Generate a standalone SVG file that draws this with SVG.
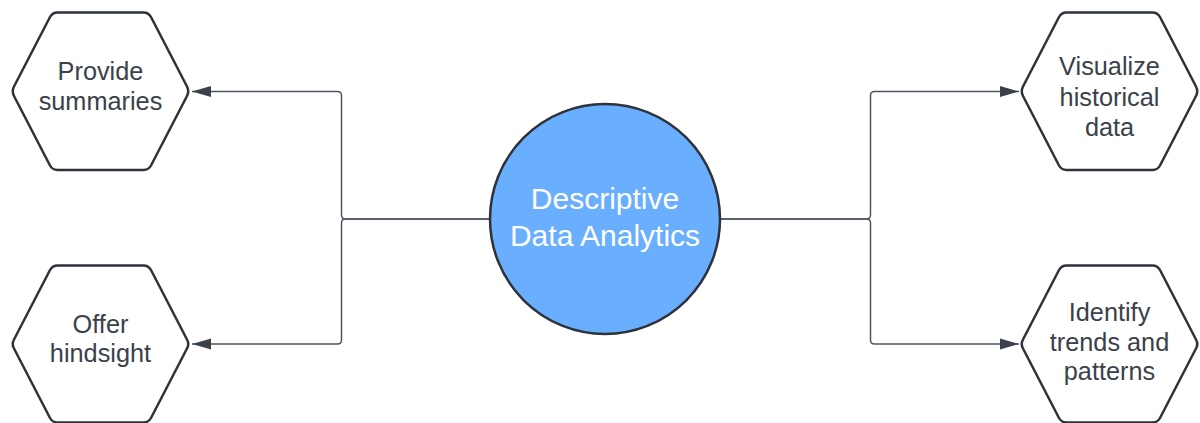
<svg xmlns="http://www.w3.org/2000/svg" width="1200" height="423" viewBox="0 0 1200 423">
  <style>
    .hex { fill: #ffffff; stroke: #2e333b; stroke-width: 2.5; stroke-linejoin: round; }
    .hex-label { font-family: "Liberation Sans", Arial, sans-serif; font-size: 25.3px; fill: #3a414a; text-anchor: middle; }
    .hub { fill: #6aaefe; stroke: #2e333b; stroke-width: 2.5; }
    .hub-label { font-family: "Liberation Sans", Arial, sans-serif; font-size: 30px; fill: #ffffff; text-anchor: middle; }
    .link { fill: none; stroke: #4f5661; stroke-width: 1.5; marker-end: url(#arrow); }
  </style>
  <defs>
    <marker id="arrow" markerUnits="userSpaceOnUse" markerWidth="20" markerHeight="12" refX="19" refY="6" orient="auto">
      <path d="M0,0.5 L19,6 L0,11.5 Z" fill="#3a414a"/>
    </marker>
  </defs>

  <g id="connectors">
    <path class="link" d="M490,219 H345.5 Q341.5,219 341.5,215 V95.5 Q341.5,91.5 337.5,91.5 H192"/>
    <path class="link" d="M490,219 H345.5 Q341.5,219 341.5,223 V340 Q341.5,344 337.5,344 H192"/>
    <path class="link" d="M720,219 H866.5 Q870.5,219 870.5,215 V95.5 Q870.5,91.5 874.5,91.5 H1019"/>
    <path class="link" d="M720,219 H866.5 Q870.5,219 870.5,223 V340 Q870.5,344 874.5,344 H1019"/>
  </g>

  <g id="node-center">
    <circle class="hub" cx="605" cy="219" r="115"/>
    <text class="hub-label" x="605" y="209">Descriptive</text>
    <text class="hub-label" x="605" y="246">Data Analytics</text>
  </g>

  <g id="node-provide-summaries">
    <path class="hex" d="M14,86.5 L50,17 Q52.5,12.5 57.5,12.5 H143.5 Q148.5,12.5 151,17 L187,86.5 Q189.5,91.5 187,96 L151,165.5 Q148.5,170 143.5,170 H57.5 Q52.5,170 50,165.5 L14,96 Q11.5,91.5 14,86.5 Z"/>
    <text class="hex-label" x="100.5" y="80">Provide</text>
    <text class="hex-label" x="100.5" y="110">summaries</text>
  </g>

  <g id="node-offer-hindsight">
    <path class="hex" d="M14,339.5 L50,270 Q52.5,265.5 57.5,265.5 H143.5 Q148.5,265.5 151,270 L187,339.5 Q189.5,344 187,348.5 L151,418 Q148.5,422.5 143.5,422.5 H57.5 Q52.5,422.5 50,418 L14,348.5 Q11.5,344 14,339.5 Z"/>
    <text class="hex-label" x="100.5" y="333">Offer</text>
    <text class="hex-label" x="100.5" y="362">hindsight</text>
  </g>

  <g id="node-visualize-historical-data">
    <path class="hex" d="M1023,86.5 L1059,17 Q1061.5,12.5 1066.5,12.5 H1152.5 Q1157.5,12.5 1160,17 L1196,86.5 Q1198.5,91.5 1196,96 L1160,165.5 Q1157.5,170 1152.5,170 H1066.5 Q1061.5,170 1059,165.5 L1023,96 Q1020.5,91.5 1023,86.5 Z"/>
    <text class="hex-label" x="1109.5" y="75">Visualize</text>
    <text class="hex-label" x="1109.5" y="106">historical</text>
    <text class="hex-label" x="1109.5" y="136">data</text>
  </g>

  <g id="node-identify-trends">
    <path class="hex" d="M1023,339.5 L1059,270 Q1061.5,265.5 1066.5,265.5 H1152.5 Q1157.5,265.5 1160,270 L1196,339.5 Q1198.5,344 1196,348.5 L1160,418 Q1157.5,422.5 1152.5,422.5 H1066.5 Q1061.5,422.5 1059,418 L1023,348.5 Q1020.5,344 1023,339.5 Z"/>
    <text class="hex-label" x="1109.5" y="321">Identify</text>
    <text class="hex-label" x="1109.5" y="350.5">trends and</text>
    <text class="hex-label" x="1109.5" y="380">patterns</text>
  </g>
</svg>
